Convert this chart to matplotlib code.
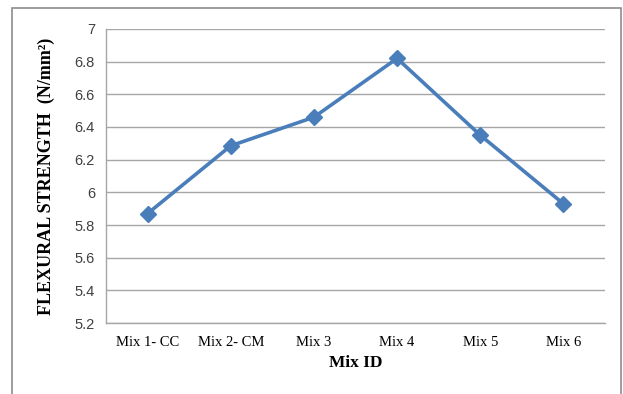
import matplotlib
matplotlib.use("Agg")
import matplotlib.pyplot as plt
from matplotlib.patches import Rectangle

categories = ["Mix 1- CC", "Mix 2- CM", "Mix 3", "Mix 4", "Mix 5", "Mix 6"]
strength = [5.87, 6.285, 6.46, 6.82, 6.35, 5.93]
yticks = [5.2, 5.4, 5.6, 5.8, 6.0, 6.2, 6.4, 6.6, 6.8, 7.0]
ytick_labels = ["5.2", "5.4", "5.6", "5.8", "6", "6.2", "6.4", "6.6", "6.8", "7"]

W, H = 623, 394
fig = plt.figure(figsize=(W / 100, H / 100), dpi=100)
fig.patch.set_facecolor("white")

# outer chart border
fig.patches.append(Rectangle((12 / W, -0.05), (621 - 12) / W, 1 - 8 / H + 0.05,
                             transform=fig.transFigure, fill=False,
                             edgecolor="#8c8c8c", linewidth=1.2))

ax = fig.add_axes([106 / W, 1 - 323 / H, (605 - 106) / W, (323 - 29) / H])
x = list(range(len(categories)))
ax.plot(x, strength, color="#4a7ebb", linewidth=2.6, marker="D", markersize=8,
        markerfacecolor="#4a7ebb", markeredgecolor="#4a7ebb", zorder=3)

ax.set_xlim(-0.5, len(categories) - 0.5)
ax.set_ylim(5.2, 7.0)
ax.set_yticks(yticks)
ax.set_yticklabels(ytick_labels, fontfamily="Liberation Sans", fontsize=10.5, color="#404040")
ax.set_xticks(x)
ax.set_xticklabels(categories, fontfamily="Liberation Serif", fontsize=10.5, color="#000000")
ax.tick_params(axis="both", length=0, pad=8)
ax.tick_params(axis="x", pad=9)

ax.grid(axis="y", color="#a6a6a6", linewidth=1.0)
ax.set_axisbelow(True)
for side in ["top", "right"]:
    ax.spines[side].set_visible(False)
for side in ["left", "bottom"]:
    ax.spines[side].set_color("#a6a6a6")
    ax.spines[side].set_linewidth(1.0)

ax.set_xlabel("Mix ID", fontfamily="Liberation Serif", fontsize=12.5, fontweight="bold", labelpad=5)
ax.set_ylabel("FLEXURAL STRENGTH  (N/mm\u00b2)", fontfamily="Liberation Serif", fontsize=13,
              fontweight="bold", labelpad=14)

fig.savefig("out.png", dpi=100)
